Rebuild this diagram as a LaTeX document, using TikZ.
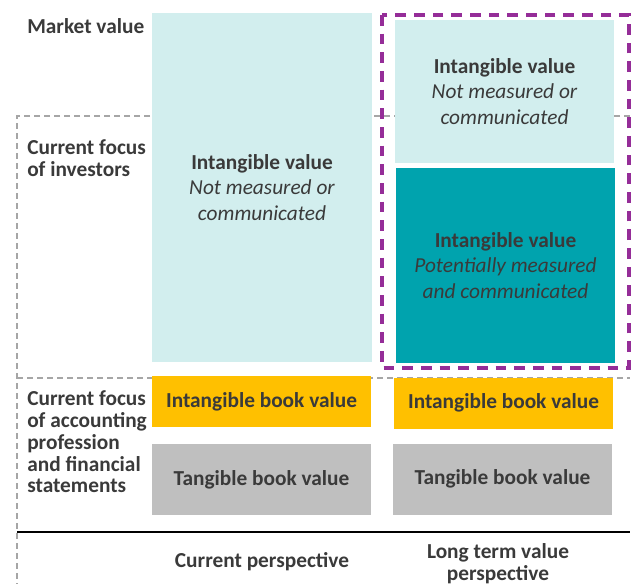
\documentclass[tikz,border=0pt]{standalone}
\usepackage{fontspec}
\setmainfont{Carlito}
\definecolor{lightteal}{HTML}{D2EEEE}
\definecolor{darkteal}{HTML}{00A3AE}
\definecolor{goldbox}{HTML}{FFC000}
\definecolor{greybox}{HTML}{BFBFBF}
\definecolor{purpleline}{HTML}{952D98}
\definecolor{textgrey}{HTML}{3A3A3A}
\begin{document}
\begin{tikzpicture}[x=0.75pt,y=-0.75pt,
    every node/.style={text=textgrey,font=\fontsize{16}{16.3}\selectfont\bfseries},
    valuebox/.style={inner sep=0pt,align=center,font=\fontsize{16}{19.3}\selectfont\bfseries},
    sidelabel/.style={anchor=west,align=left,inner sep=0pt},
    focusline/.style={draw=gray!70,line width=1pt,dash pattern=on 4.5pt off 3pt}]
        \useasboundingbox (0,0) rectangle (634,583);
        \draw[focusline] (630,116) -- (17,116) -- (17,590);
        \draw[focusline] (17,378) -- (630,378);
        \node[valuebox,fill=lightteal,minimum width=165pt,minimum height=261.75pt] (leftint) at (262,187.5) {Intangible value\\ {\mdseries\itshape Not measured or}\\ {\mdseries\itshape communicated}};
        \node[valuebox,fill=lightteal,minimum width=164.25pt,minimum height=107.25pt] (rightint) at (504.5,91.5) {Intangible value\\ {\mdseries\itshape Not measured or}\\ {\mdseries\itshape communicated}};
        \node[valuebox,fill=darkteal,minimum width=164.25pt,minimum height=146.25pt] (rightpot) at (505.5,265.5) {Intangible value\\ {\mdseries\itshape Potentially measured}\\ {\mdseries\itshape and communicated}};
        \node[valuebox,fill=goldbox,minimum width=164.25pt,minimum height=38.25pt] (leftibv) at (261.5,401.5) {Intangible book value};
        \node[valuebox,fill=goldbox,minimum width=164.25pt,minimum height=38.25pt] (rightibv) at (503.5,403) {Intangible book value};
        \node[valuebox,fill=greybox,minimum width=164.25pt,minimum height=53.25pt] (lefttbv) at (261.5,479.5) {Tangible book value};
        \node[valuebox,fill=greybox,minimum width=164.25pt,minimum height=53.25pt] (righttbv) at (502.5,479) {Tangible book value};
        \draw[purpleline,line width=3pt,dash pattern=on 8pt off 6pt] (382,15) rectangle (629,368);
        \draw[line width=1.5pt] (17,532) -- (630,532);
        \node[sidelabel] (market) at (27,26) {Market value};
        \node[sidelabel] (investors) at (27,158) {Current focus\\of investors};
        \node[sidelabel] (accounting) at (27,442) {Current focus\\of accounting\\profession\\and financial\\statements};
        \node (curpersp) at (262,562) {Current perspective};
        \node[align=center] (longpersp) at (498,564) {Long term value\\perspective};
\end{tikzpicture}
\end{document}
